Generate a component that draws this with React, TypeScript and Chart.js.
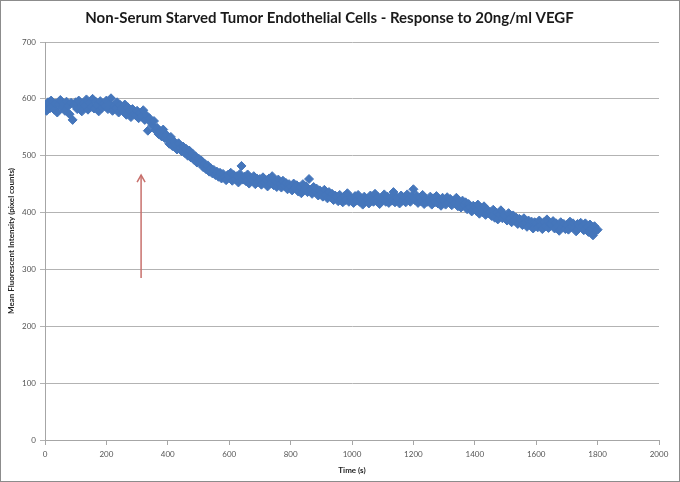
import React, { useEffect, useRef } from "react";
import { Chart, registerables } from "chart.js";

Chart.register(...registerables);

const TITLE = "Non-Serum Starved Tumor Endothelial Cells - Response to 20ng/ml VEGF";
const X_TITLE = "Time (s)";
const Y_TITLE = "Mean Fluorescent Intensity (pixel counts)";

// sampling: first time point and interval (seconds)
const START_S = 0;
const STEP_S = 5;

// mean fluorescent intensity, one per 5 s (0 .. 1800 s)
const intensity = [
  588, 579, 594, 583, 597, 586, 581, 592, 576, 590,
  598, 584, 591, 579, 595, 587, 573, 593, 563, 589,
  594, 582, 597, 585, 578, 592, 588, 599, 581, 594,
  586, 600, 583, 595, 589, 578, 596, 584, 592, 587,
  597, 582, 591, 601, 579, 588, 584, 594, 576, 589,
  583, 578, 590, 572, 585, 579, 568, 582, 574, 571,
  579, 566, 575, 569, 580, 563, 571, 544, 566, 558,
  553, 561, 545, 549, 538, 543, 534, 546, 531, 537,
  528, 521, 533, 517, 525, 519, 511, 522, 514, 508,
  516, 505, 512, 500, 509, 497, 504, 493, 499, 488,
  495, 487, 491, 480, 486, 476, 483, 472, 478, 469,
  475, 466, 472, 463, 470, 460, 468, 462, 457, 466,
  462, 470, 456, 466, 459, 464, 453, 468, 482, 458,
  463, 455, 467, 451, 461, 457, 464, 450, 460, 454,
  459, 449, 462, 453, 457, 446, 460, 451, 464, 448,
  455, 445, 458, 450, 444, 456, 447, 452, 441, 450,
  446, 439, 451, 443, 448, 437, 445, 434, 450, 441,
  446, 436, 459, 440, 433, 445, 437, 442, 430, 439,
  434, 428, 440, 431, 425, 436, 427, 433, 422, 430,
  428, 420, 431, 424, 418, 429, 422, 434, 419, 426,
  425, 417, 429, 421, 431, 419, 424, 414, 428, 421,
  424, 416, 430, 422, 419, 433, 420, 427, 415, 425,
  425, 432, 419, 428, 417, 426, 421, 436, 418, 427,
  423, 416, 430, 421, 427, 418, 432, 424, 419, 429,
  441, 422, 430, 417, 426, 420, 431, 415, 424, 419,
  422, 428, 414, 425, 418, 429, 416, 423, 412, 426,
  421, 414, 427, 418, 424, 413, 420, 416, 426, 411,
  417, 409, 421, 413, 418, 406, 415, 410, 402, 412,
  410, 403, 414, 398, 408, 401, 411, 396, 405, 399,
  401, 394, 405, 391, 400, 388, 397, 404, 390, 396,
  394, 386, 399, 389, 383, 395, 386, 391, 380, 389,
  387, 378, 390, 382, 375, 386, 379, 384, 372, 383,
  381, 374, 386, 377, 371, 383, 376, 388, 373, 380,
  379, 385, 372, 381, 376, 368, 383, 375, 380, 371,
  378, 370, 384, 375, 381, 373, 367, 380, 376, 382,
  377, 369, 381, 374, 366, 379, 372, 360, 376, 368,
  370,
];

const X_MIN = 0;
const X_MAX = 2000;
const X_STEP = 200;
const Y_MIN = 0;
const Y_MAX = 700;
const Y_STEP = 100;

// annotation arrow (data units)
const ARROW_X = 313;
const ARROW_FROM_Y = 285;
const ARROW_TO_Y = 466;

const FONT = "Lato, 'Open Sans', 'Liberation Sans', sans-serif";

const framePlugin = {
  id: "frame",
  beforeDraw(chart: any) {
    const { ctx, width, height } = chart;
    ctx.save();
    ctx.fillStyle = "#ffffff";
    ctx.fillRect(0, 0, width, height);
    ctx.restore();
  },
  afterDraw(chart: any) {
    const { ctx, width, height } = chart;
    ctx.save();
    ctx.strokeStyle = "#8c8c8c";
    ctx.lineWidth = 1;
    ctx.strokeRect(0.5, 0.5, width - 1, height - 1);
    ctx.restore();
  },
};

const arrowPlugin = {
  id: "arrow",
  afterDatasetsDraw(chart: any) {
    const { ctx } = chart;
    const xs = chart.scales.x;
    const ys = chart.scales.y;
    const x = xs.getPixelForValue(ARROW_X);
    const y0 = ys.getPixelForValue(ARROW_FROM_Y);
    const y1 = ys.getPixelForValue(ARROW_TO_Y);
    ctx.save();
    ctx.strokeStyle = "#c8706c";
    ctx.lineWidth = 1.5;
    ctx.beginPath();
    ctx.moveTo(x, y0);
    ctx.lineTo(x, y1);
    ctx.stroke();
    ctx.beginPath();
    ctx.moveTo(x - 4, y1 + 7);
    ctx.lineTo(x, y1);
    ctx.lineTo(x + 4, y1 + 7);
    ctx.stroke();
    ctx.restore();
  },
};

export default function App() {
  const ref = useRef<HTMLCanvasElement | null>(null);

  useEffect(() => {
    document.body.style.margin = "0";
    const canvas = ref.current;
    if (!canvas) return;
    const points = intensity.map((v, i) => ({ x: START_S + i * STEP_S, y: v }));
    const chart = new Chart(canvas, {
      type: "scatter",
      data: {
        datasets: [
          {
            data: points,
            pointStyle: "rectRot",
            pointRadius: 4.5,
            pointBackgroundColor: "#4576bb",
            pointBorderColor: "#4576bb",
            pointBorderWidth: 1,
            showLine: false,
          },
        ],
      },
      options: {
        animation: false,
        responsive: false,
        maintainAspectRatio: false,
        layout: { padding: { left: 0, right: 21, top: 0, bottom: 0 } },
        plugins: {
          legend: { display: false },
          tooltip: { enabled: false },
          title: {
            display: true,
            text: TITLE,
            color: "#1a1a1a",
            font: { family: FONT, size: 15, weight: "bold" },
            padding: { top: 9, bottom: 15 },
          },
        },
        scales: {
          x: {
            type: "linear",
            min: X_MIN,
            max: X_MAX,
            afterFit: (s: any) => {
              s.height = 42;
            },
            ticks: {
              stepSize: X_STEP,
              color: "#555555",
              font: { family: FONT, size: 8 },
              padding: 5,
              maxRotation: 0,
              callback: (v: any) => String(v),
            },
            grid: {
              drawOnChartArea: false,
              drawTicks: true,
              tickLength: 5,
              color: "#a6a6a6",
            },
            border: { display: true, color: "#a6a6a6", width: 1 },
            title: {
              display: true,
              text: X_TITLE,
              color: "#222222",
              font: { family: FONT, size: 8, weight: "bold" },
              padding: { top: 0, bottom: 7 },
            },
          },
          y: {
            type: "linear",
            min: Y_MIN,
            max: Y_MAX,
            afterFit: (s: any) => {
              s.width = 45;
            },
            ticks: {
              stepSize: Y_STEP,
              color: "#555555",
              font: { family: FONT, size: 8 },
              padding: 4,
              callback: (v: any) => String(v),
            },
            grid: {
              color: "#b3b3b3",
              lineWidth: 1,
              drawTicks: true,
              tickLength: 5,
            },
            border: { display: true, color: "#a6a6a6", width: 1 },
            title: {
              display: true,
              text: Y_TITLE,
              color: "#222222",
              font: { family: FONT, size: 8, weight: "bold" },
              padding: { top: 7, bottom: 0 },
            },
          },
        },
      },
      plugins: [framePlugin, arrowPlugin],
    });
    return () => chart.destroy();
  }, []);

  return (
    <div style={{ position: "absolute", left: 0, top: 0, width: 680, height: 482 }}>
      <canvas ref={ref} width={680} height={482} style={{ width: 680, height: 482, display: "block" }} />
    </div>
  );
}
